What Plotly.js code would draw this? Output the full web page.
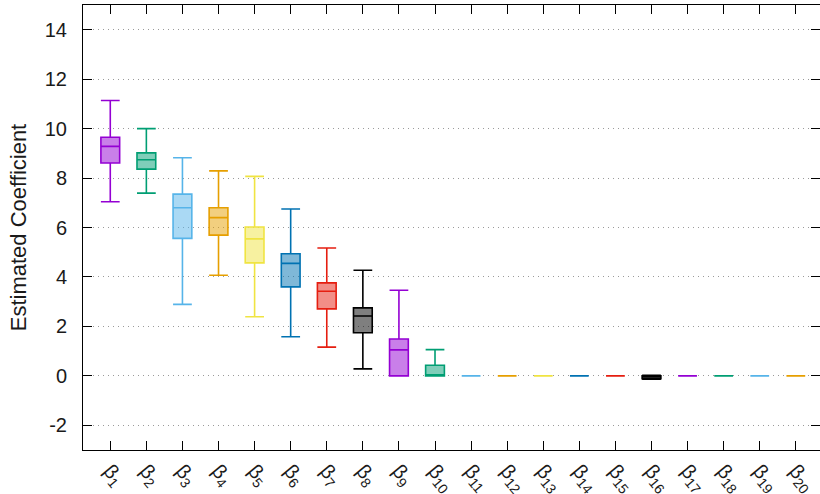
<!DOCTYPE html>
<html>
<head>
<meta charset="utf-8">
<script src="https://cdn.plot.ly/plotly-3.0.1.min.js"></script>
<style>
  html, body { margin: 0; padding: 0; background: #fff; }
  #chart { width: 820px; height: 494px; }
</style>
</head>
<body>
<div id="chart"></div>
<script>
// Coefficient indices and their summary statistics
const coefIndex = [1, 2, 3, 4, 5, 6, 7, 8, 9, 10, 11, 12, 13, 14, 15, 16, 17, 18, 19, 20];
const tickLabels = coefIndex.map(i => 'β<sub>' + i + '</sub>');

const lowerWhisker = [7.04, 7.39, 2.89, 4.07, 2.39, 1.58, 1.16, 0.28, 0, 0, 0, 0, 0, 0, 0, -0.14, 0, 0, 0, 0];
const lowerQuartile = [8.61, 8.36, 5.56, 5.69, 4.57, 3.60, 2.71, 1.74, 0, 0, 0, 0, 0, 0, 0, -0.12, 0, 0, 0, 0];
const medians = [9.28, 8.74, 6.80, 6.40, 5.54, 4.55, 3.42, 2.42, 1.05, 0, 0, 0, 0, 0, 0, -0.04, 0, 0, 0, 0];
const upperQuartile = [9.65, 9.02, 7.35, 6.80, 6.02, 4.94, 3.76, 2.75, 1.49, 0.43, 0, 0, 0, 0, 0, 0, 0, 0, 0, 0];
const upperWhisker = [11.14, 10.0, 8.82, 8.29, 8.07, 6.75, 5.17, 4.27, 3.46, 1.06, 0, 0, 0, 0, 0, 0.02, 0, 0, 0, 0];

// Cycling line colours
const palette = ['#9400D3', '#009E73', '#56B4E9', '#E69F00', '#F0E442', '#0072B2', '#E51E10', '#000000'];

function withAlpha(hex, a) {
  const r = parseInt(hex.slice(1, 3), 16);
  const g = parseInt(hex.slice(3, 5), 16);
  const b = parseInt(hex.slice(5, 7), 16);
  return 'rgba(' + r + ',' + g + ',' + b + ',' + a + ')';
}

const traces = coefIndex.map((idx, k) => {
  const c = palette[k % palette.length];
  return {
    type: 'box',
    x: [idx],
    q1: [lowerQuartile[k]],
    median: [medians[k]],
    q3: [upperQuartile[k]],
    lowerfence: [lowerWhisker[k]],
    upperfence: [upperWhisker[k]],
    width: 0.52,
    whiskerwidth: 1,
    line: { color: c, width: 1.6 },
    fillcolor: withAlpha(c, 0.5),
    hoverinfo: 'skip',
    showlegend: false
  };
});

const fontFamily = '"Liberation Sans", Arial, sans-serif';

const layout = {
  width: 820,
  height: 494,
  margin: { l: 83, r: 0, t: 5, b: 44 },
  paper_bgcolor: '#ffffff',
  plot_bgcolor: '#ffffff',
  font: { family: fontFamily, size: 20, color: '#1a1a1a' },
  showlegend: false,
  xaxis: {
    range: [0.244, 20.67],
    tickmode: 'array',
    tickvals: coefIndex,
    ticktext: tickLabels,
    tickangle: 50,
    ticks: 'inside',
    ticklen: 9,
    tickwidth: 1,
    tickcolor: '#000',
    showline: true,
    linecolor: '#000',
    linewidth: 1,
    mirror: 'allticks',
    showgrid: false,
    zeroline: false,
    tickfont: { family: fontFamily, size: 20, color: '#1a1a1a' }
  },
  yaxis: {
    range: [-3, 15],
    tickmode: 'array',
    tickvals: [-2, 0, 2, 4, 6, 8, 10, 12, 14],
    ticktext: ['-2', '0', '2', '4', '6', '8', '10', '12', '14'],
    ticks: 'inside',
    ticklen: 9,
    tickwidth: 1,
    tickcolor: '#000',
    ticklabelstandoff: 11,
    showline: true,
    linecolor: '#000',
    linewidth: 1,
    mirror: 'allticks',
    showgrid: true,
    gridcolor: '#9a9a9a',
    gridwidth: 1,
    griddash: '1px,4px',
    zeroline: false,
    title: { text: 'Estimated Coefficient', font: { family: fontFamily, size: 22, color: '#1a1a1a' }, standoff: 12 },
    tickfont: { family: fontFamily, size: 20, color: '#1a1a1a' }
  }
};

Plotly.newPlot('chart', traces, layout, { staticPlot: true, displayModeBar: false });
</script>
</body>
</html>
